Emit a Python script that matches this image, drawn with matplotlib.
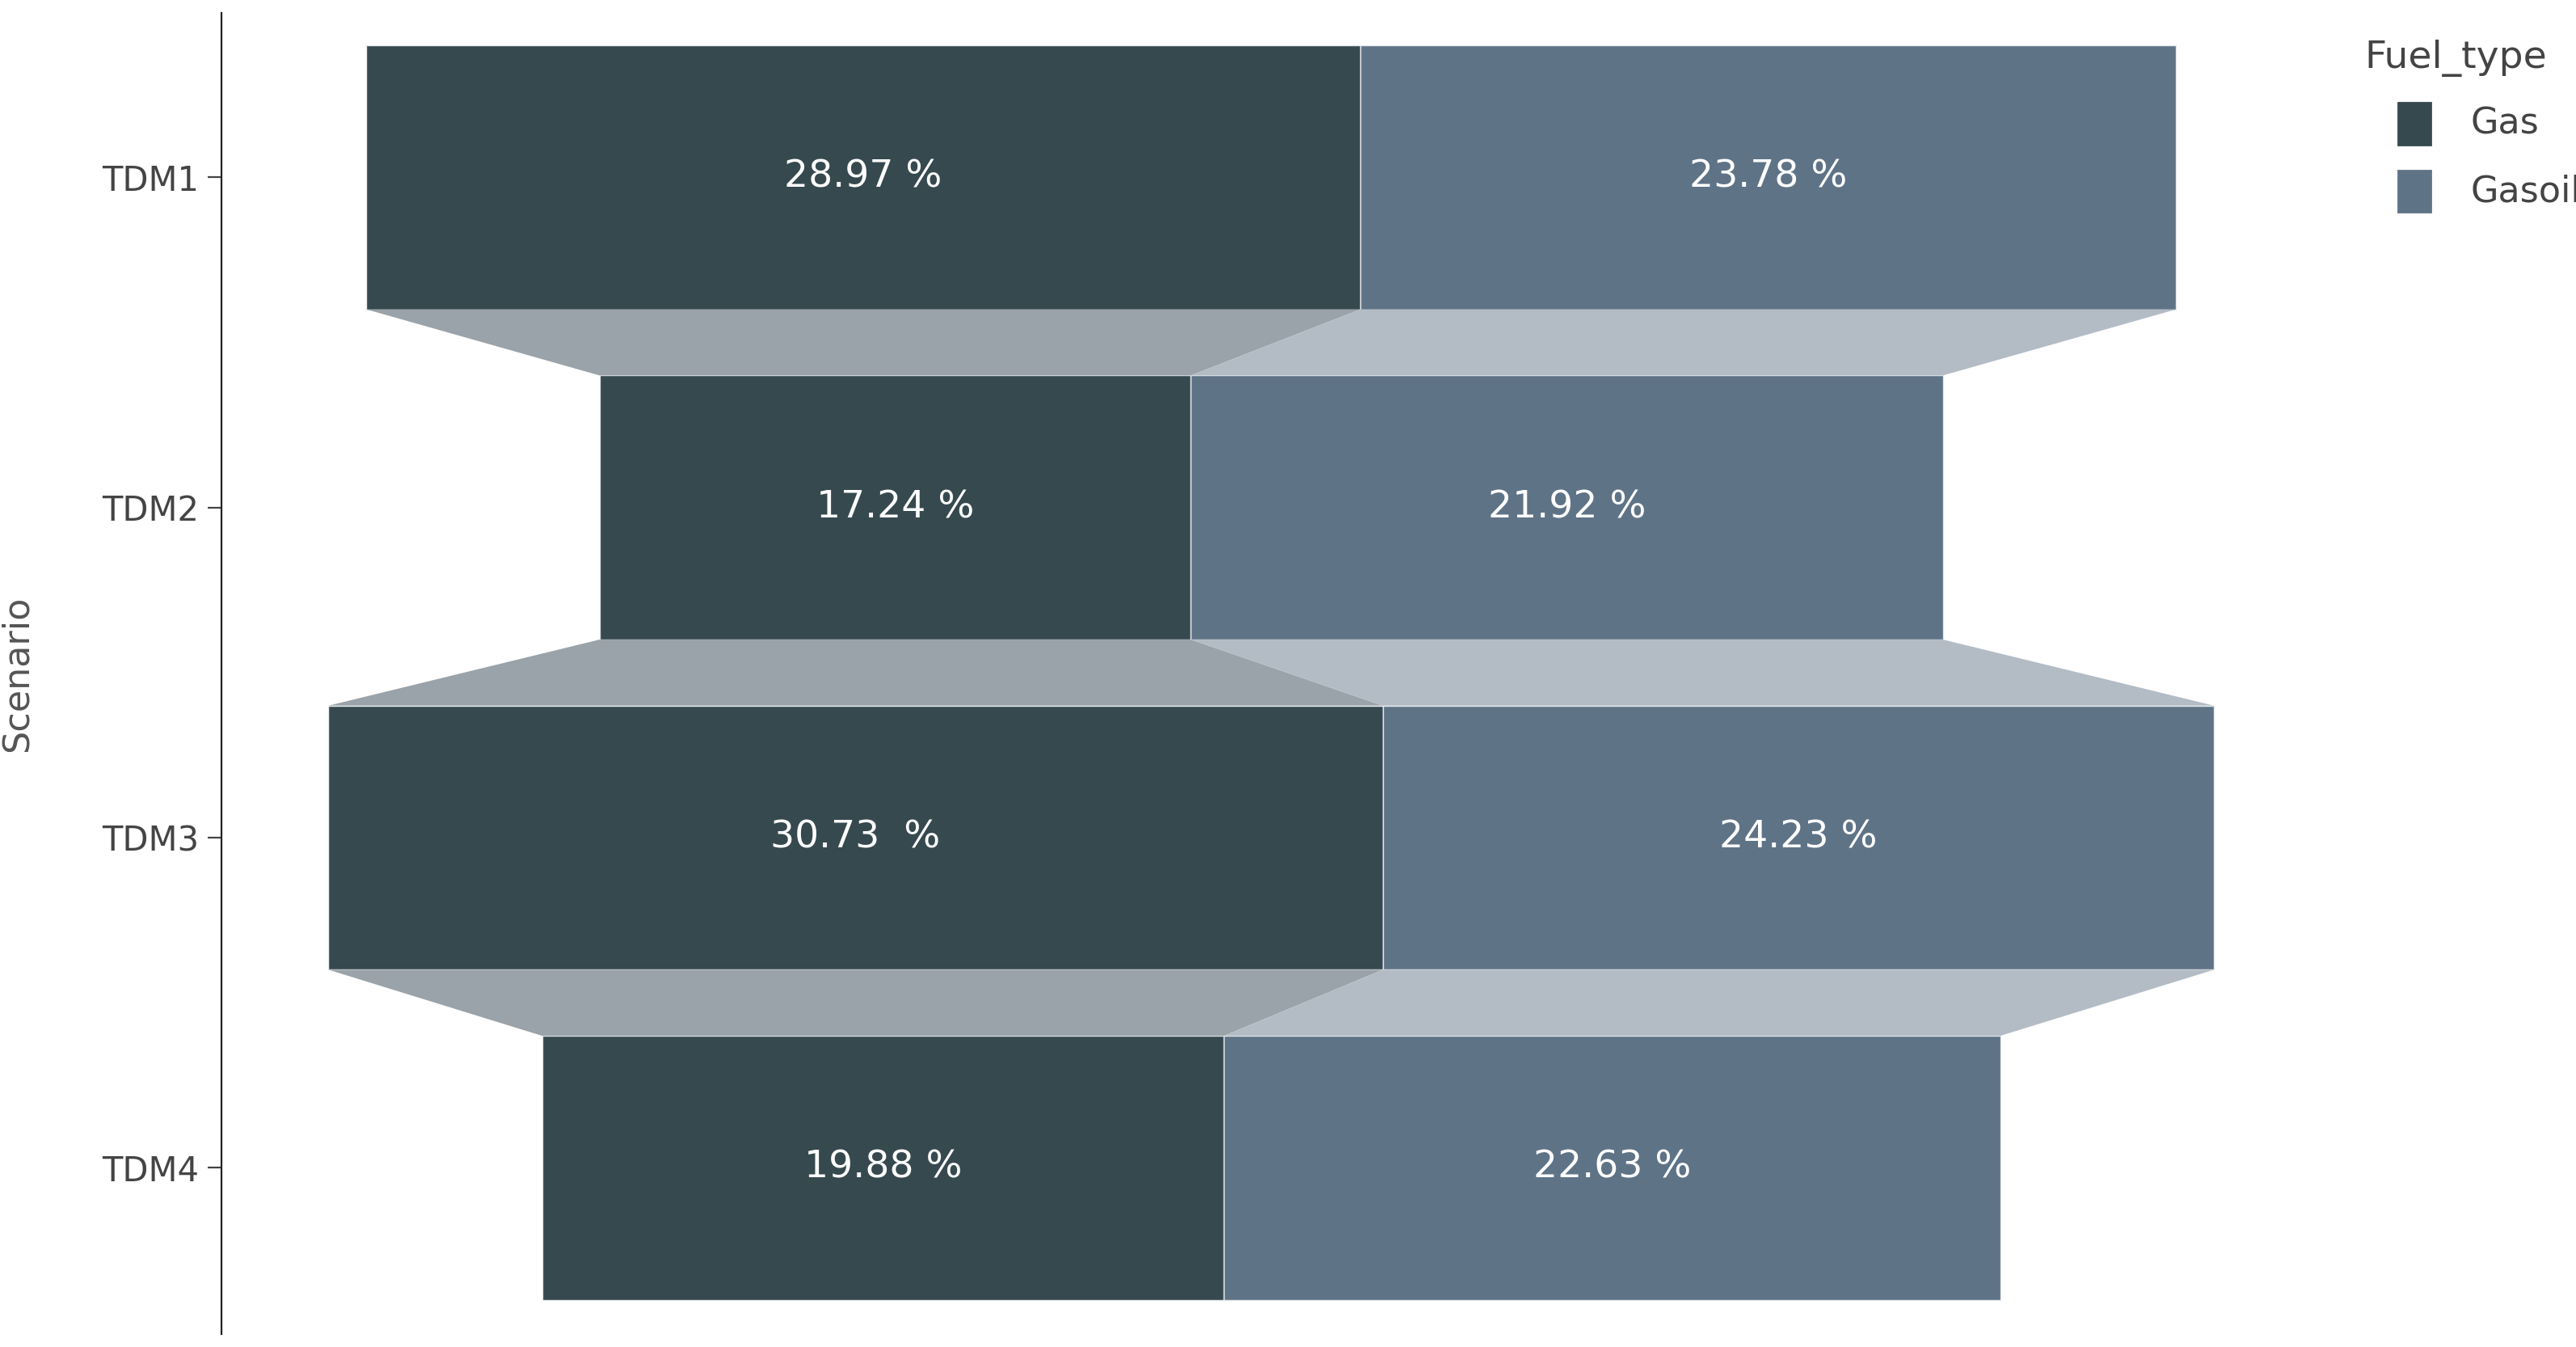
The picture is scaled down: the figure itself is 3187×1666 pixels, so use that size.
import matplotlib
matplotlib.use("Agg")
import matplotlib.pyplot as plt
from matplotlib.patches import Polygon, Rectangle

scenarios = ["TDM1", "TDM2", "TDM3", "TDM4"]
gas = [28.97, 17.24, 30.73, 19.88]
gasoil = [23.78, 21.92, 24.23, 22.63]
gas_labels = ["28.97 %", "17.24 %", "30.73  %", "19.88 %"]
gasoil_labels = ["23.78 %", "21.92 %", "24.23 %", "22.63 %"]

gas_color = "#36494f"
gasoil_color = "#5f7387"
gas_conn = "#9aa3a9"
gasoil_conn = "#b3bcc5"
narrow = ["Liberation Sans Narrow", "DejaVu Sans"]

fig = plt.figure(figsize=(15.935, 8.33), dpi=200)
ax = fig.add_axes([0.086, 0.0098, 0.807, 0.9805])

h = 0.8
lefts, mids, rights = [], [], []
for i, (g, o) in enumerate(zip(gas, gasoil)):
    left = -(g + o) / 2
    lefts.append(left)
    mids.append(left + g)
    rights.append(left + g + o)
    ax.barh(i, g, left=left, height=h, color=gas_color, edgecolor="#e8ecef", linewidth=0.5)
    ax.barh(i, o, left=left + g, height=h, color=gasoil_color, edgecolor="#e8ecef", linewidth=0.5)
    ax.text(left + g / 2, i, gas_labels[i], color="white", ha="center", va="center",
            fontsize=17, family=narrow)
    ax.text(left + g + o / 2, i, gasoil_labels[i], color="white", ha="center", va="center",
            fontsize=17, family=narrow)

# connectors between stages
for i in range(len(scenarios) - 1):
    y0, y1 = i + h / 2, i + 1 - h / 2
    ax.add_patch(Polygon([(lefts[i], y0), (mids[i], y0), (mids[i + 1], y1), (lefts[i + 1], y1)],
                         color=gas_conn, lw=0))
    ax.add_patch(Polygon([(mids[i], y0), (rights[i], y0), (rights[i + 1], y1), (mids[i + 1], y1)],
                         color=gasoil_conn, lw=0))

ax.set_xlim(-30.6, 30.0)
ax.set_ylim(3.5025, -0.4975)
ax.set_yticks(range(len(scenarios)))
ax.set_yticklabels(scenarios, fontsize=15, color="#444444", family=narrow)
ax.tick_params(axis="y", length=6, color="#444444", pad=4)
ax.set_xticks([])
for s in ["top", "right", "bottom"]:
    ax.spines[s].set_visible(False)
ax.spines["left"].set_color("#222222")
ax.set_ylabel("Scenario", fontsize=16, color="#555555", labelpad=30)

# legend
fig.text(0.918, 0.957, "Fuel_type", fontsize=17, color="#444444", va="center", family=narrow)
for k, (name, col) in enumerate([("Gas", gas_color), ("Gasoil", gasoil_color)]):
    yc = 0.908 - k * 0.05
    fig.add_artist(Rectangle((0.931, yc - 0.0155), 0.0125, 0.031, color=col,
                             transform=fig.transFigure))
    fig.text(0.959, yc, name, fontsize=16, color="#444444", va="center", family=narrow)

fig.savefig("out.png", dpi=200, facecolor="white")
